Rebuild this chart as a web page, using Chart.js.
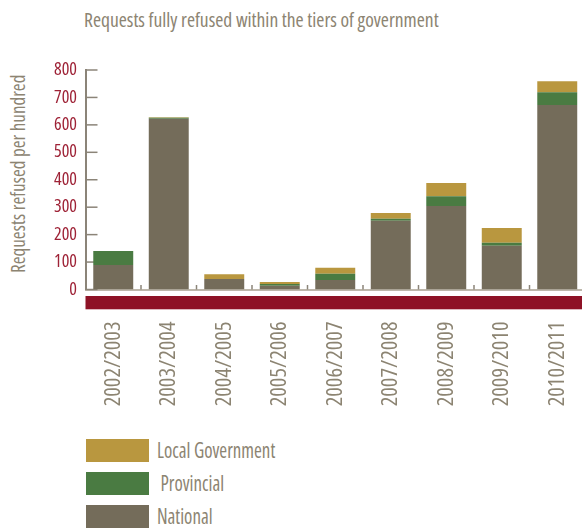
<!DOCTYPE html>
<html lang="en">
<head>
  <meta charset="UTF-8" />
  <meta name="viewport" content="width=device-width, initial-scale=1.0" />
  <title>Requests fully refused</title>
  <script src="https://cdn.jsdelivr.net/npm/chart.js"></script>
  <style>
    html, body { margin: 0; padding: 0; width: 582px; height: 532px; overflow: hidden; background: #fff; }
    body { font-family: 'Open Sans', sans-serif; font-stretch: 75%; color: #8c8472; position: relative; }
    .title { position: absolute; left: 84px; top: 8px; font-size: 20px; line-height: 24px; white-space: nowrap;
             transform-origin: left top; transform: scaleX(0.978); }
    .ytitle { position: absolute; left: 6px; top: 273px; font-size: 20px; line-height: 24px; white-space: nowrap;
              transform-origin: left top; transform: rotate(-90deg) scaleX(0.95); }
    .chart-box { position: absolute; left: 0; top: 0; width: 585px; height: 432px; }
    .legend { position: absolute; left: 86px; top: 439px; }
    .legend .item { height: 23px; margin-bottom: 10px; display: flex; }
    .legend .box { width: 63px; height: 23px; flex: none; }
    .legend .txt { font-size: 21px; line-height: 23px; margin-left: 8px; white-space: pre;
                   transform-origin: left center; transform: scaleX(0.9); }
  </style>
</head>
<body>
  <div class="title">Requests fully refused within the tiers of government</div>
  <div class="ytitle">Requests refused per hundred</div>
  <div class="chart-box">
    <canvas id="refusedChart"></canvas>
  </div>
  <div class="legend" id="legend"></div>

<script>
const years = ['2002/2003', '2003/2004', '2004/2005', '2005/2006', '2006/2007',
               '2007/2008', '2008/2009', '2009/2010', '2010/2011'];
const national   = [89, 622, 38, 14, 35, 251, 304, 159, 672];
const provincial = [51, 4, 0, 6, 22, 7, 36, 11, 47];
const localGov   = [0, 2, 18, 7, 22, 21, 48, 54, 40];
const yMax = 800;
const yStep = 100;

const GREY_TEXT = '#8c8472';
// 'condensed' goes into the canvas font string and picks the narrow width of Open Sans
const NARROW = { family: "'Open Sans'", weight: 'condensed' };

const series = [
  { label: 'National', data: national, color: '#746c5a' },
  { label: ' Provincial', data: provincial, color: '#4a7b42' },
  { label: 'Local Government', data: localGov, color: '#b9973f' }
];

// red band under the baseline, inward ticks on the value axis, small marks between years
const axisMarks = {
  id: 'axisMarks',
  beforeDatasetsDraw(chart) {
    const { ctx, chartArea, scales: { x, y } } = chart;
    ctx.save();
    ctx.fillStyle = '#8e1226';
    ctx.fillRect(chartArea.left, chartArea.bottom + 6.5, chart.width - chartArea.left, 13.3);

    ctx.strokeStyle = '#8b8478';
    ctx.lineWidth = 1.5;
    y.ticks.forEach(t => {
      const py = y.getPixelForValue(t.value);
      ctx.beginPath();
      ctx.moveTo(chartArea.left, py);
      ctx.lineTo(chartArea.left + 12, py);
      ctx.stroke();
    });
    for (let i = 0; i < x.ticks.length - 1; i++) {
      const px = (x.getPixelForTick(i) + x.getPixelForTick(i + 1)) / 2;
      ctx.beginPath();
      ctx.moveTo(px, chartArea.bottom);
      ctx.lineTo(px, chartArea.bottom - 4.5);
      ctx.stroke();
    }
    ctx.restore();
  }
};

new Chart(document.getElementById('refusedChart'), {
  type: 'bar',
  data: {
    labels: years,
    datasets: series.map(s => ({
      label: s.label,
      data: s.data,
      backgroundColor: s.color,
      borderWidth: 0,
      categoryPercentage: 1,
      barPercentage: 0.72
    }))
  },
  options: {
    responsive: true,
    maintainAspectRatio: false,
    animation: false,
    layout: { padding: { top: 70, left: 0, right: 0, bottom: 0 } },
    plugins: {
      legend: { display: false },
      tooltip: { enabled: false }
    },
    scales: {
      x: {
        stacked: true,
        grid: { display: false, drawTicks: false },
        border: { display: true, color: '#bdb7ab', width: 2 },
        ticks: {
          autoSkip: false,
          minRotation: 90,
          maxRotation: 90,
          padding: 32,
          color: GREY_TEXT,
          font: { ...NARROW, size: 22.5 }
        },
        afterFit: s => { s.height = 432 - 289.5; s.paddingLeft = 0; s.paddingRight = 0; }
      },
      y: {
        stacked: true,
        min: 0,
        max: yMax,
        grid: { display: false, drawTicks: false },
        border: { display: true, color: '#8b8478', width: 2 },
        ticks: {
          stepSize: yStep,
          padding: 8.5,
          color: '#9e2236',
          font: { ...NARROW, size: 18 }
        },
        afterFit: s => { s.width = 85.5; }
      }
    }
  },
  plugins: [axisMarks]
});

// legend, top entry first
const legend = document.getElementById('legend');
series.slice().reverse().forEach(s => {
  const item = document.createElement('div');
  item.className = 'item';
  item.innerHTML = '<span class="box" style="background:' + s.color + '"></span><span class="txt"></span>';
  item.querySelector('.txt').textContent = s.label;
  legend.appendChild(item);
});
</script>
</body>
</html>
